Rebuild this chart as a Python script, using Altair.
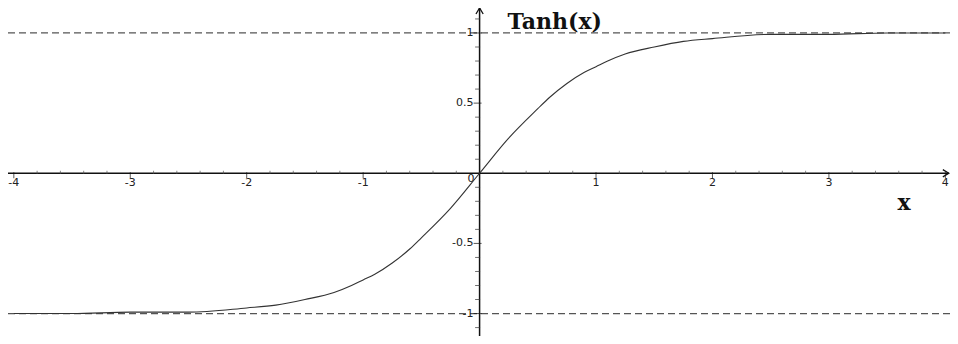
import altair as alt
import pandas as pd

# ---- data ----
curve_x = [-4, -3.5, -3, -2.5, -2, -1.75, -1.5, -1.25, -1.1, -1, -0.9, -0.75, -0.6, -0.5, -0.25, 0,
           0.25, 0.5, 0.6, 0.75, 0.9, 1, 1.1, 1.25, 1.5, 1.75, 2, 2.5, 3, 3.5, 4]
curve_y = [-1.0, -1.0, -0.99, -0.99, -0.96, -0.94, -0.90, -0.85, -0.80, -0.76, -0.72, -0.64, -0.54, -0.46, -0.25, 0.0,
           0.25, 0.46, 0.54, 0.64, 0.72, 0.76, 0.80, 0.85, 0.90, 0.94, 0.96, 0.99, 0.99, 1.0, 1.0]
asymptotes = [-1, 1]
x_ticks = [-4, -3, -2, -1, 1, 2, 3, 4]
x_tick_labels = ["-4", "-3", "-2", "-1", "1", "2", "3", "4"]
x_minor = [-3.8, -3.6, -3.4, -3.2, -2.8, -2.6, -2.4, -2.2, -1.8, -1.6, -1.4, -1.2,
           -0.8, -0.6, -0.4, -0.2, 0.2, 0.4, 0.6, 0.8, 1.2, 1.4, 1.6, 1.8,
           2.2, 2.4, 2.6, 2.8, 3.2, 3.4, 3.6, 3.8]
y_ticks = [-1, -0.5, 0.5, 1]
y_tick_labels = ["-1", "-0.5", "0.5", "1"]
y_minor = [-1.1, -0.9, -0.8, -0.7, -0.6, -0.4, -0.3, -0.2, -0.1,
           0.1, 0.2, 0.3, 0.4, 0.6, 0.7, 0.8, 0.9, 1.1]
title_text = "Tanh(x)"
x_axis_label = "x"
origin_label = "0"

X_DOMAIN = [-4.05, 4.04]
Y_DOMAIN = [-1.16, 1.178]

xs = alt.Scale(domain=X_DOMAIN, nice=False, zero=False)
ys = alt.Scale(domain=Y_DOMAIN, nice=False, zero=False)


def X(field="x"):
    return alt.X(f"{field}:Q", scale=xs, axis=None)


def Y(field="y"):
    return alt.Y(f"{field}:Q", scale=ys, axis=None)


curve_df = pd.DataFrame({"x": curve_x, "y": curve_y})
asym_df = pd.DataFrame({"x": [X_DOMAIN[0]] * len(asymptotes), "x2": [X_DOMAIN[1]] * len(asymptotes), "y": asymptotes})
xaxis_df = pd.DataFrame({"x": [X_DOMAIN[0]], "x2": [X_DOMAIN[1] - 0.01], "y": [0]})
yaxis_df = pd.DataFrame({"x": [0], "y": [Y_DOMAIN[0]], "y2": [Y_DOMAIN[1]]})
xt_df = pd.DataFrame({"x": x_ticks, "y": [0] * len(x_ticks), "label": x_tick_labels})
xm_df = pd.DataFrame({"x": x_minor, "y": [0] * len(x_minor)})
yt_df = pd.DataFrame({"x": [0] * len(y_ticks), "y": y_ticks, "label": y_tick_labels})
ym_df = pd.DataFrame({"x": [0] * len(y_minor), "y": y_minor})
origin_df = pd.DataFrame({"x": [0], "y": [0], "label": [origin_label]})
title_df = pd.DataFrame({"x": [0], "y": [Y_DOMAIN[1]], "label": [title_text]})
xlabel_df = pd.DataFrame({"x": [X_DOMAIN[1]], "y": [0], "label": [x_axis_label]})
yarrow_df = pd.DataFrame({"x": [0], "y": [Y_DOMAIN[1]]})
xarrow_df = pd.DataFrame({"x": [X_DOMAIN[1] - 0.01], "y": [0]})

asym = alt.Chart(asym_df).mark_rule(color="#555555", strokeWidth=1.2, strokeDash=[7, 4]).encode(
    x=X(), x2="x2", y=Y())

xaxis = alt.Chart(xaxis_df).mark_rule(color="#111111", strokeWidth=1.5).encode(x=X(), x2="x2", y=Y())
yaxis = alt.Chart(yaxis_df).mark_rule(color="#111111", strokeWidth=1.5).encode(x=X(), y=Y(), y2="y2")

xticks = alt.Chart(xt_df).mark_tick(orient="vertical", size=6, yOffset=2, color="#111111", thickness=1).encode(
    x=X(), y=Y())
xminor = alt.Chart(xm_df).mark_tick(orient="vertical", size=3, yOffset=-1, color="#555555", thickness=1).encode(
    x=X(), y=Y())
yticks = alt.Chart(yt_df).mark_tick(orient="horizontal", size=8, xOffset=-2, color="#111111", thickness=1).encode(
    x=X(), y=Y())
yminor = alt.Chart(ym_df).mark_tick(orient="horizontal", size=5, xOffset=-2, color="#333333", thickness=1).encode(
    x=X(), y=Y())

xlabels = alt.Chart(xt_df).mark_text(fontSize=11, font="DejaVu Sans", dy=10, color="#222222").encode(
    x=X(), y=Y(), text="label:N")
ylabels = alt.Chart(yt_df).mark_text(fontSize=11, font="DejaVu Sans", align="right", dx=-6, color="#222222").encode(
    x=X(), y=Y(), text="label:N")
olabel = alt.Chart(origin_df).mark_text(fontSize=11, font="DejaVu Sans", align="right", dx=-5, dy=6, color="#222222").encode(
    x=X(), y=Y(), text="label:N")

curve = alt.Chart(curve_df).mark_line(color="#333333", strokeWidth=1.1, interpolate="monotone").encode(
    x=X(), y=Y())

title = alt.Chart(title_df).mark_text(fontSize=22, font="DejaVu Serif", fontWeight="bold", align="left",
                                      baseline="alphabetic", dx=28, dy=21, color="#111111").encode(
    x=X(), y=Y(), text="label:N")
xlabel = alt.Chart(xlabel_df).mark_text(fontSize=22, font="DejaVu Serif", fontWeight="bold", align="center",
                                        dx=-46, dy=30, color="#111111").encode(
    x=X(), y=Y(), text="label:N")

yarrow = alt.Chart(yarrow_df).mark_point(shape="M-0.6,1L0,0L0.6,1", size=144, filled=False,
                                         color="#111111", strokeWidth=1.3, opacity=1).encode(x=X(), y=Y())
xarrow = alt.Chart(xarrow_df).mark_point(shape="M-1,-0.6L0,0L-1,0.6", size=144, filled=False,
                                         color="#111111", strokeWidth=1.3, opacity=1).encode(x=X(), y=Y())

chart = alt.layer(
    asym, xaxis, yaxis, xminor, xticks, yminor, yticks, curve,
    xlabels, ylabels, olabel, title, xlabel, yarrow, xarrow
).properties(
    width=942, height=328, padding=0, autosize=alt.AutoSizeParams(type="none"),
    background="white"
).configure_view(stroke=None)

chart.save("out.html", embed_options={"renderer": "svg", "actions": False})
